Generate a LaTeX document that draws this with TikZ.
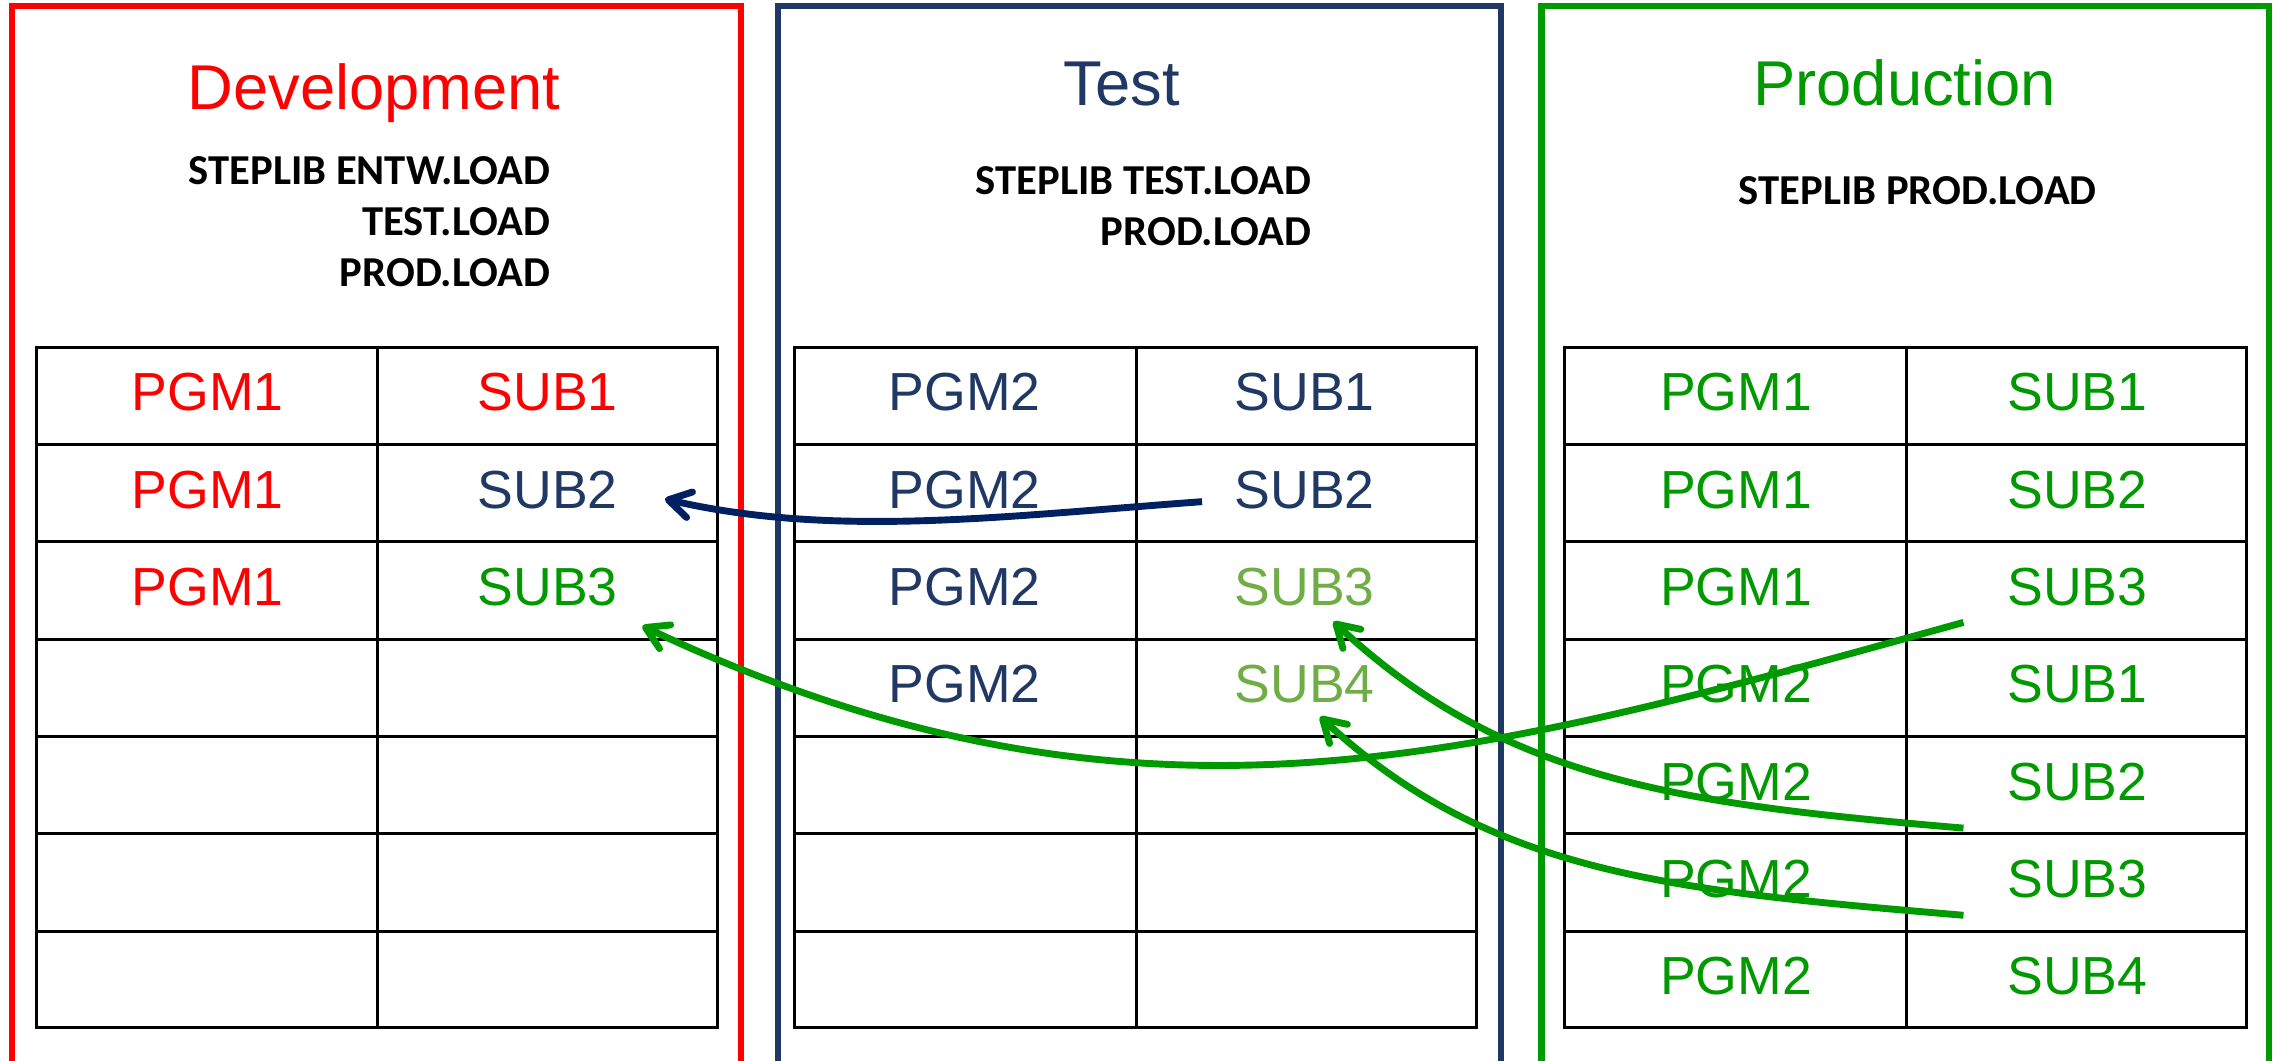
\documentclass[tikz,border=0pt]{standalone}
\usepackage{fontspec}
\setmainfont{Liberation Sans}
\newfontfamily\libfont{Carlito}
\usetikzlibrary{calc}
\usetikzlibrary{arrows.meta}
\usepackage{xcolor}

\definecolor{devred}{RGB}{255,0,0}
\definecolor{testblue}{RGB}{31,56,100}
\definecolor{arrowblue}{RGB}{0,32,96}
\definecolor{prodgreen}{RGB}{0,153,0}
\definecolor{lightgreen}{RGB}{112,173,71}

\tikzset{
  frame/.style={line width=1.2pt},
  tabline/.style={line width=0.6pt, black},
  cell/.style={inner sep=0pt, anchor=base, font=\fontsize{10.5}{12}\selectfont},
  title/.style={inner sep=0pt, anchor=base, font=\fontsize{12.4}{15}\selectfont},
  libtext/.style={inner sep=0pt, anchor=base east, align=right, font=\libfont\bfseries\fontsize{8.35}{10}\selectfont},
  move/.style={line width=1.35pt, -{Straight Barb[length=1.5mm,width=1.8mm,round]}},
}

\begin{document}
\begin{tikzpicture}
\useasboundingbox (0,0) rectangle (15.68,-7.30);

\draw[frame, devred] (0.084,-7.30) |- (5.098,-0.041) -- (5.098,-7.30);
\draw[frame, testblue] (5.355,-7.30) |- (10.33,-0.041) -- (10.33,-7.30);
\draw[frame, prodgreen] (10.61,-7.30) |- (15.615,-0.041) -- (15.615,-7.30);

\node[title, devred] (dev) at (2.575,-0.757) {Development};
\node[title, testblue] (test) at (7.72,-0.723) {Test};
\node[title, prodgreen] (prod) at (13.11,-0.723) {Production};

\node[libtext] (dev-lib) at (3.797,-1.975) {STEPLIB ENTW.LOAD\\TEST.LOAD\\PROD.LOAD};
\node[libtext] (test-lib) at (9.035,-1.693) {STEPLIB TEST.LOAD\\PROD.LOAD};
\node[libtext, anchor=base] (prod-lib) at (13.2,-1.41) {STEPLIB PROD.LOAD};

\foreach \x in {0.25,5.47,10.77}{
  \draw[tabline] (\x,-2.39) rectangle ++(4.69,-4.68);
  \draw[tabline] (\x+2.35,-2.39) -- ++(0,-4.68);
  \foreach \r in {1,...,6}
    \draw[tabline] (\x,-2.39-0.67*\r) -- ++(4.69,0);
}

\node[cell, devred] (dev-p1) at (1.43,-2.827) {PGM1};
\node[cell, devred] (dev-s1) at (3.77,-2.827) {SUB1};
\node[cell, devred] (dev-p2) at (1.43,-3.497) {PGM1};
\node[cell, testblue] (dev-s2) at (3.77,-3.497) {SUB2};
\node[cell, devred] (dev-p3) at (1.43,-4.167) {PGM1};
\node[cell, prodgreen] (dev-s3) at (3.77,-4.167) {SUB3};

\foreach \r in {1,...,4}
  \node[cell, testblue] (test-p\r) at (6.64,-2.157-0.67*\r) {PGM2};
\node[cell, testblue] (test-s1) at (8.98,-2.827) {SUB1};
\node[cell, testblue] (test-s2) at (8.98,-3.497) {SUB2};
\node[cell, lightgreen] (test-s3) at (8.98,-4.167) {SUB3};
\node[cell, lightgreen] (test-s4) at (8.98,-4.837) {SUB4};

\foreach \r/\p/\s in {1/PGM1/SUB1, 2/PGM1/SUB2, 3/PGM1/SUB3, 4/PGM2/SUB1, 5/PGM2/SUB2, 6/PGM2/SUB3, 7/PGM2/SUB4}{
  \node[cell, prodgreen] (prod-p\r) at (11.95,-2.157-0.67*\r) {\p};
  \node[cell, prodgreen] (prod-s\r) at (14.30,-2.157-0.67*\r) {\s};
}

\draw[move, arrowblue] ($(test-s2.base)+(-0.706,0.044)$) .. controls +(-1.37,-0.10) and +(1.17,-0.27) .. ($(dev-s2.base)+(0.807,0.062)$);
\draw[move, prodgreen] ($(prod-s3.base)+(-0.785,-0.117)$) .. controls +(-3.375,-0.934) and +(3.4,-1.6) .. ($(dev-s3.base)+(0.651,-0.142)$);
\draw[move, prodgreen] ($(prod-s5.base)+(-0.785,-0.193)$) .. controls +(-1.99,0.17) and +(1.17,-1.09) .. ($(test-s3.base)+(0.198,-0.112)$);
\draw[move, prodgreen] ($(prod-s6.base)+(-0.785,-0.123)$) .. controls +(-1.99,0.17) and +(1.17,-1.09) .. ($(test-s4.base)+(0.106,-0.096)$);
\end{tikzpicture}
\end{document}
